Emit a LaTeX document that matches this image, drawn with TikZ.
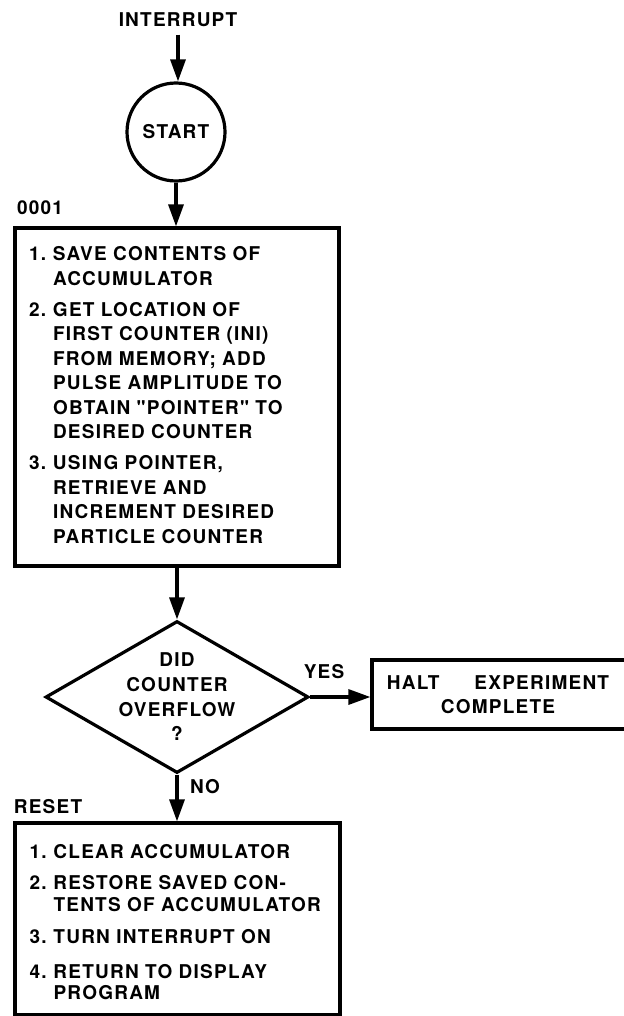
\documentclass[tikz,border=0pt]{standalone}
\usepackage{fontspec}
\setmainfont{TeX Gyre Heros}[LetterSpace=6.5, UprightFont=*-Bold, Ligatures=TeXOff]
\usetikzlibrary{shapes.geometric, arrows.meta}

\begin{document}
\begin{tikzpicture}[x=1pt, y=-1pt, line width=3.2pt,
    every node/.style={inner sep=0pt, font=\fontsize{19}{24.5}\selectfont},
    flow/.style={-{Triangle[length=22pt, width=15pt]}},
    stepbox/.style={draw, rectangle, minimum width=324pt},
    decision/.style={draw, diamond, aspect=1.73, inner sep=-4pt, minimum width=263pt,
      minimum height=152pt, align=center, font=\fontsize{19}{24.7}\selectfont}]
  \useasboundingbox (0,0) rectangle (623,1016);
  % Entry
  \node (interrupt) at (178,20) {INTERRUPT};
  \node[draw, circle, minimum size=98pt] (start) at (176,132) {START};
  % Counting block
  \node (addr) at (40,208) {0001};
  \node[stepbox, minimum height=338pt, text width=296pt] (save) at (177,397) {%
    \noindent\begin{tabular}{@{}p{24pt}@{}l@{}}
      1. & SAVE CONTENTS OF\\
         & ACCUMULATOR\\[6.5pt]
      2. & GET LOCATION OF\\
         & FIRST COUNTER (INI)\\
         & FROM MEMORY; ADD\\
         & PULSE AMPLITUDE TO\\
         & OBTAIN "POINTER" TO\\
         & DESIRED COUNTER\\[6.5pt]
      3. & USING POINTER,\\
         & RETRIEVE AND\\
         & INCREMENT DESIRED\\
         & PARTICLE COUNTER
    \end{tabular}};
  % Test
  \node[decision] (ovf) at (177,697) {DID\\COUNTER\\OVERFLOW\\?};
  \node[stepbox, minimum width=258pt, minimum height=69pt, align=center] (halt) at (501,694.5)
    {\hspace*{-6pt}HALT\hspace{35pt}EXPERIMENT\\[-1pt]\hspace*{-6pt}COMPLETE};
  \node (yes) at (324,672) {YES};
  \node (no) at (205,787) {NO};
  % Reset block
  \node (rst) at (48,807) {RESET};
  \node[stepbox, minimum width=325pt, minimum height=192pt, text width=296pt,
    font=\fontsize{19}{21.5}\selectfont] (reset) at (177.5,919) {%
    \noindent\raisebox{-6pt}[\height][\depth]{\begin{tabular}{@{}p{24pt}@{}l@{}}
      1. & CLEAR ACCUMULATOR\\[9.5pt]
      2. & RESTORE SAVED CON-\\
         & TENTS OF ACCUMULATOR\\[10.5pt]
      3. & TURN INTERRUPT ON\\[13.5pt]
      4. & RETURN TO DISPLAY\\
         & PROGRAM
    \end{tabular}}};
  % Connectors
  \draw[flow, shorten <=6pt] (interrupt.south) -- (interrupt.south |- start.north);
  \draw[flow] (start.south) -- (start.south |- save.north);
  \draw[flow] (save.south -| ovf.north) -- (ovf.north);
  \draw[flow] (ovf.east) -- (ovf.east -| halt.west);
  \draw[flow] (ovf.south) -- (ovf.south |- reset.north);
\end{tikzpicture}
\end{document}
